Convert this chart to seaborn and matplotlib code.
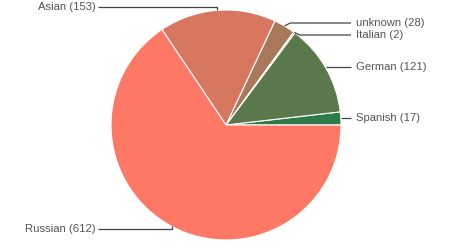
import numpy as np
import matplotlib
matplotlib.use("Agg")
import matplotlib.pyplot as plt
import seaborn as sns

categories = ["Spanish", "German", "Italian", "unknown", "Asian", "Russian"]
values = [17, 121, 2, 28, 153, 612]
colors = ["#2e7a48", "#5b784c", "#8c7a58", "#a9785a", "#d77760", "#ff7866"]

sns.set_theme(style="white")
plt.rcParams["font.family"] = ["Liberation Sans", "DejaVu Sans"]

W, H = 450, 250
cx, cy, R = 226, 125, 115
fig = plt.figure(figsize=(W / 100, H / 100), dpi=100)
ax = fig.add_axes([0, 0, 1, 1])
ax.axis("off")

wedges, _ = ax.pie(values, colors=colors, startangle=0, counterclock=True,
                   radius=1, center=(0, 0),
                   wedgeprops=dict(edgecolor="white", linewidth=0.8))
ax.set_xlim(-cx / R, (W - cx) / R)
ax.set_ylim(-(H - cy) / R, cy / R)
ax.set_aspect("equal")

# label layout (pixel y of label)
label_y = {"Spanish": 118, "German": 67, "Italian": 35, "unknown": 23, "Asian": 7, "Russian": 229}
right_x, left_x = 356, 96

def px(x, y):
    return ((x - cx) / R, (cy - y) / R)

line_kw = dict(color="#444444", lw=0.9, solid_capstyle="butt")
text_kw = dict(fontsize=8.1, color="#555555", va="center")
for w, name, v in zip(wedges, categories, values):
    mid = np.deg2rad((w.theta1 + w.theta2) / 2)
    ex, ey = np.cos(mid), np.sin(mid)
    ly = label_y[name]
    lyd = px(0, ly)[1]
    text = f"{name} ({v})"
    if ex >= 0:
        tx = px(right_x - 5, ly)[0]
        if abs(ey - lyd) > 0.01:
            ax.plot([ex, ex + 0.05, tx], [ey, lyd, lyd], **line_kw)
        else:
            ax.plot([ex, tx], [lyd, lyd], **line_kw)
        ax.text(px(right_x, ly)[0], lyd, text, ha="left", **text_kw)
    else:
        tx = px(left_x + 2, ly)[0]
        ax.plot([ex, ex, tx], [ey, lyd, lyd], **line_kw)
        ax.text(px(left_x, ly)[0], lyd, text, ha="right", **text_kw)

fig.savefig("out.png", dpi=100, facecolor="white")
